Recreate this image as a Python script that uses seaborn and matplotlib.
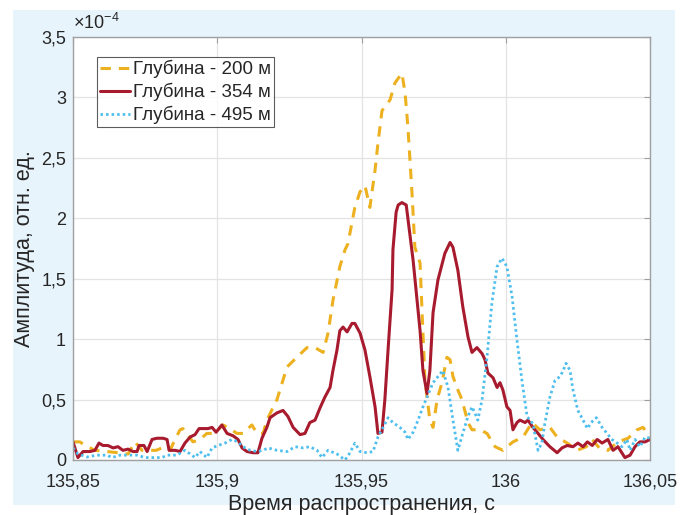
import matplotlib
matplotlib.use("Agg")
import matplotlib.pyplot as plt
from matplotlib.patches import Rectangle
from matplotlib.ticker import FuncFormatter, FixedLocator
import seaborn as sns
import pandas as pd

# ---- data (amplitude in units of 1e-4) ----
t_200 = [135.8500, 135.8524, 135.8542, 135.8576, 135.8618, 135.8656, 135.8691, 135.8715, 135.8739,
         135.8788, 135.8808, 135.8836, 135.8854, 135.8871, 135.8881, 135.8916, 135.8940, 135.8964,
         135.8985, 135.9003, 135.9020, 135.9044, 135.9068, 135.9089, 135.9120, 135.9138, 135.9159,
         135.9172, 135.9207, 135.9242, 135.9276, 135.9311, 135.9339, 135.9367, 135.9384, 135.9401,
         135.9425, 135.9443, 135.9453, 135.9477, 135.9495, 135.9512, 135.9529, 135.9547, 135.9557,
         135.9571, 135.9599, 135.9616, 135.9640, 135.9651, 135.9661, 135.9668, 135.9675, 135.9685,
         135.9703, 135.9710, 135.9720, 135.9737, 135.9748, 135.9762, 135.9779, 135.9796, 135.9807,
         135.9817, 135.9834, 135.9848, 135.9858, 135.9869, 135.9883, 135.9911, 135.9935, 135.9963,
         135.9990, 136.0025, 136.0060, 136.0091, 136.0118, 136.0153, 136.0178, 136.0213, 136.0247,
         136.0279, 136.0300, 136.0324, 136.0354, 136.0389, 136.0424, 136.0455, 136.0476, 136.0500]
a_200 = [0.15, 0.15, 0.12, 0.08, 0.07, 0.06, 0.05, 0.15, 0.08,
         0.08, 0.10, 0.08, 0.17, 0.25, 0.26, 0.15, 0.17, 0.22,
         0.22, 0.25, 0.29, 0.26, 0.22, 0.22, 0.29, 0.22, 0.22,
         0.33, 0.50, 0.77, 0.85, 0.93, 0.93, 0.89, 1.05, 1.32,
         1.60, 1.74, 1.79, 2.09, 2.22, 2.27, 2.09, 2.40, 2.62,
         2.89, 2.98, 3.12, 3.20, 3.04, 2.75, 2.48, 2.21, 1.76,
         1.63, 1.22, 0.66, 0.33, 0.27, 0.50, 0.64, 0.85, 0.83,
         0.69, 0.58, 0.50, 0.41, 0.31, 0.25, 0.25, 0.22, 0.11,
         0.08, 0.15, 0.19, 0.31, 0.25, 0.27, 0.19, 0.14, 0.08,
         0.11, 0.17, 0.10, 0.08, 0.15, 0.18, 0.25, 0.27, 0.19]

t_354 = [135.8500, 135.8517, 135.8535, 135.8559, 135.8576, 135.8590, 135.8604, 135.8621, 135.8639,
         135.8656, 135.8673, 135.8691, 135.8708, 135.8722, 135.8729, 135.8746, 135.8757, 135.8774,
         135.8791, 135.8812, 135.8826, 135.8833, 135.8854, 135.8871, 135.8888, 135.8906, 135.8923,
         135.8937, 135.8951, 135.8968, 135.8982, 135.8996, 135.9016, 135.9034, 135.9055, 135.9072,
         135.9086, 135.9103, 135.9124, 135.9141, 135.9155, 135.9172, 135.9183, 135.9207, 135.9228,
         135.9245, 135.9263, 135.9287, 135.9304, 135.9321, 135.9339, 135.9356, 135.9373, 135.9391,
         135.9401, 135.9415, 135.9425, 135.9436, 135.9450, 135.9467, 135.9477, 135.9495, 135.9512,
         135.9529, 135.9547, 135.9557, 135.9571, 135.9581, 135.9592, 135.9606, 135.9609, 135.9620,
         135.9627, 135.9640, 135.9655, 135.9679, 135.9703, 135.9713, 135.9727, 135.9737, 135.9748,
         135.9765, 135.9789, 135.9807, 135.9817, 135.9834, 135.9851, 135.9869, 135.9883, 135.9900,
         135.9918, 135.9928, 135.9938, 135.9956, 135.9970, 135.9980, 135.9990, 136.0004, 136.0015,
         136.0025, 136.0039, 136.0049, 136.0067, 136.0077, 136.0094, 136.0112, 136.0129, 136.0153,
         136.0178, 136.0195, 136.0213, 136.0233, 136.0250, 136.0268, 136.0283, 136.0300, 136.0317,
         136.0334, 136.0354, 136.0372, 136.0389, 136.0413, 136.0431, 136.0448, 136.0465, 136.0483,
         136.0500]
a_354 = [0.15, 0.02, 0.07, 0.07, 0.08, 0.14, 0.12, 0.12, 0.10,
         0.11, 0.08, 0.09, 0.07, 0.07, 0.12, 0.12, 0.07, 0.17,
         0.18, 0.18, 0.17, 0.08, 0.08, 0.07, 0.14, 0.19, 0.21,
         0.26, 0.26, 0.26, 0.27, 0.23, 0.29, 0.22, 0.20, 0.17,
         0.10, 0.07, 0.06, 0.06, 0.18, 0.27, 0.35, 0.39, 0.41,
         0.36, 0.27, 0.21, 0.22, 0.31, 0.33, 0.43, 0.52, 0.60,
         0.74, 0.91, 1.07, 1.10, 1.06, 1.13, 1.13, 1.05, 0.91,
         0.69, 0.44, 0.22, 0.23, 0.50, 0.91, 1.41, 1.74, 2.05,
         2.11, 2.13, 2.11, 1.65, 1.07, 0.74, 0.55, 0.74, 1.22,
         1.49, 1.71, 1.80, 1.76, 1.57, 1.27, 1.02, 0.89, 0.93,
         0.88, 0.83, 0.72, 0.68, 0.60, 0.64, 0.58, 0.44, 0.41,
         0.25, 0.31, 0.33, 0.31, 0.33, 0.27, 0.22, 0.17, 0.11,
         0.06, 0.10, 0.12, 0.11, 0.14, 0.11, 0.15, 0.12, 0.17,
         0.14, 0.17, 0.08, 0.11, 0.02, 0.04, 0.11, 0.15, 0.15,
         0.17]

t_495 = [135.8500, 135.8517, 135.8549, 135.8583, 135.8618, 135.8635, 135.8663, 135.8691, 135.8722,
         135.8750, 135.8777, 135.8808, 135.8826, 135.8860, 135.8888, 135.8912, 135.8923, 135.8940,
         135.8964, 135.8982, 135.9003, 135.9027, 135.9051, 135.9072, 135.9089, 135.9114, 135.9138,
         135.9159, 135.9176, 135.9207, 135.9242, 135.9269, 135.9297, 135.9321, 135.9346, 135.9363,
         135.9384, 135.9415, 135.9443, 135.9460, 135.9477, 135.9495, 135.9519, 135.9540, 135.9557,
         135.9575, 135.9592, 135.9609, 135.9633, 135.9651, 135.9661, 135.9679, 135.9696, 135.9713,
         135.9727, 135.9748, 135.9782, 135.9800, 135.9817, 135.9834, 135.9851, 135.9869, 135.9883,
         135.9893, 135.9903, 135.9918, 135.9935, 135.9952, 135.9970, 135.9987, 136.0004, 136.0022,
         136.0039, 136.0056, 136.0074, 136.0094, 136.0112, 136.0125, 136.0136, 136.0153, 136.0171,
         136.0188, 136.0199, 136.0209, 136.0223, 136.0233, 136.0250, 136.0268, 136.0283, 136.0296,
         136.0314, 136.0334, 136.0351, 136.0368, 136.0386, 136.0403, 136.0420, 136.0431, 136.0448,
         136.0465, 136.0483, 136.0500]
a_495 = [0.10, 0.05, 0.025, 0.04, 0.04, 0.02, 0.04, 0.04, 0.04,
         0.02, 0.02, 0.02, 0.04, 0.04, 0.08, 0.04, 0.02, 0.07,
         0.02, 0.10, 0.12, 0.14, 0.17, 0.15, 0.11, 0.08, 0.07,
         0.08, 0.10, 0.08, 0.07, 0.11, 0.10, 0.11, 0.08, 0.02,
         0.08, 0.05, 0.00, 0.06, 0.14, 0.07, 0.06, 0.07, 0.19,
         0.27, 0.35, 0.31, 0.27, 0.23, 0.17, 0.23, 0.33, 0.44,
         0.52, 0.64, 0.74, 0.60, 0.33, 0.08, 0.22, 0.36, 0.44,
         0.39, 0.33, 0.50, 0.85, 1.30, 1.60, 1.67, 1.60, 1.35,
         0.99, 0.66, 0.36, 0.30, 0.08, 0.14, 0.31, 0.52, 0.66,
         0.69, 0.74, 0.80, 0.74, 0.58, 0.41, 0.33, 0.26, 0.31,
         0.35, 0.27, 0.22, 0.17, 0.14, 0.11, 0.17, 0.08, 0.17,
         0.11, 0.19, 0.18]

labels = ["Глубина - 200 м", "Глубина - 354 м", "Глубина - 495 м"]
x_ticks = [135.85, 135.9, 135.95, 136.0, 136.05]
y_ticks = [0, 0.5, 1, 1.5, 2, 2.5, 3, 3.5]

# ---- style ----
sns.set_style("white")
plt.rcParams['font.family'] = ['Liberation Sans', 'DejaVu Sans']
plt.rcParams['mathtext.fontset'] = 'custom'
plt.rcParams['mathtext.rm'] = 'Liberation Sans'

fig = plt.figure(figsize=(6.86, 5.15), dpi=100, facecolor="white")
bg = Rectangle((13 / 686, 10 / 515), (675 - 13) / 686, (505 - 10) / 515,
               transform=fig.transFigure, facecolor="#E8F4FC",
               edgecolor="none", zorder=-10)
fig.add_artist(bg)
ax = fig.add_axes([73 / 686, 55 / 515, 577 / 686, 423 / 515])
ax.set_zorder(1)
ax.set_facecolor("white")

d200 = pd.DataFrame({"t": t_200, "a": a_200})
d354 = pd.DataFrame({"t": t_354, "a": a_354})
d495 = pd.DataFrame({"t": t_495, "a": a_495})

sns.lineplot(data=d200, x="t", y="a", ax=ax, color="#EDB120", lw=2.2,
             label=labels[0], estimator=None, sort=False,
             linestyle=(0, (3.4, 2.6)))
sns.lineplot(data=d354, x="t", y="a", ax=ax, color="#A81B2E", lw=2.2,
             label=labels[1], estimator=None, sort=False)
sns.lineplot(data=d495, x="t", y="a", ax=ax, color="#4DBEEE", lw=2.0,
             label=labels[2], estimator=None, sort=False,
             linestyle=(0, (0.9, 1.1)))

ax.set_xlim(135.85, 136.05)
ax.set_ylim(0, 3.5)
ax.xaxis.set_major_locator(FixedLocator(x_ticks))
ax.yaxis.set_major_locator(FixedLocator(y_ticks))
fmt = FuncFormatter(lambda v, p: ("%g" % round(v, 4)).replace(".", ","))
ax.xaxis.set_major_formatter(fmt)
ax.yaxis.set_major_formatter(fmt)

ax.grid(True, color="#E3E3E3", lw=0.9)
ax.set_axisbelow(True)
for s in ax.spines.values():
    s.set_color("#A0A0A0")
    s.set_linewidth(1.0)
ax.tick_params(direction="in", length=4, width=0.8, color="#A0A0A0",
               top=True, right=True, labelsize=13, labelcolor="#262626")
ax.tick_params(axis="x", pad=10)
ax.tick_params(axis="y", pad=5)

ax.set_xlabel("Время распространения, с", fontsize=15.5, color="#262626", labelpad=2)
ax.set_ylabel("Амплитуда, отн. ед.", fontsize=15.5, color="#262626", labelpad=4)
ax.text(0.0, 1.01, "×10$^{-4}$", transform=ax.transAxes, fontsize=13,
        color="#262626", ha="left", va="bottom")

leg = ax.legend(loc="upper left", bbox_to_anchor=(0.042, 0.953), fontsize=13.5,
                frameon=True, fancybox=False, edgecolor="#333333",
                handlelength=1.6, handletextpad=0.15, borderpad=0.16,
                labelspacing=0.25, borderaxespad=0)
leg.get_frame().set_linewidth(0.8)

fig.savefig("out.png", dpi=100, facecolor="white")
